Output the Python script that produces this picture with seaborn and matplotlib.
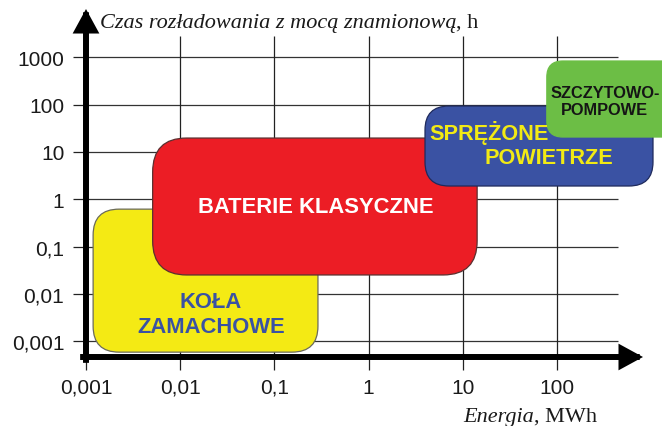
import numpy as np
import matplotlib
matplotlib.use("Agg")
import matplotlib.pyplot as plt
import seaborn as sns
from matplotlib.patches import FancyBboxPatch
from matplotlib.transforms import IdentityTransform

# ---------------- data ----------------
x_ticks = [0.001, 0.01, 0.1, 1, 10, 100]
x_labels = ["0,001", "0,01", "0,1", "1", "10", "100"]
y_ticks = [0.001, 0.01, 0.1, 1, 10, 100, 1000]
y_labels = ["0,001", "0,01", "0,1", "1", "10", "100", "1000"]

# storage technologies: energy range (MWh) and discharge time range (h)
techs = ["KOŁA ZAMACHOWE", "BATERIE KLASYCZNE", "SPRĘŻONE POWIETRZE", "SZCZYTOWO-POMPOWE"]
energy_min = [0.00119, 0.0051, 3.97, 78]
energy_max = [0.29, 14.2, 1045, 3000]
time_min = [0.00059, 0.0252, 1.91, 20.7]
time_max = [0.62, 19.7, 93.5, 836]
box_colors = ["#F4EA14", "#EC1D25", "#3A52A3", "#6CBE45"]
edge_colors = ["#6b6b5a", "#5a3030", "#1f2a5c", "#6CBE45"]
radius_px = [26, 34, 24, 16]

# labels inside boxes: (text, x, y, ha, color, size, linespacing)
labels = [
    ("KOŁA\nZAMACHOWE", 0.0212, 0.0037, "center", "#3A52A3", 15.8, 1.25),
    ("BATERIE KLASYCZNE", 0.273, 0.72, "center", "white", 15.8, 1.2),
    ("SPRĘŻONE", 4.4, 26, "left", "#F2EA14", 15.6, 1.2),
    ("POWIETRZE", 82, 7.7, "center", "#F2EA14", 15.6, 1.2),
    ("SZCZYTOWO-\nPOMPOWE", 322, 120, "center", "#151515", 11.8, 1.15),
]

# ---------------- figure ----------------
sns.set_theme(style="ticks")
plt.rcParams["font.family"] = ["Liberation Sans", "DejaVu Sans"]

fig = plt.figure(figsize=(6.62, 4.27), dpi=100)
ax = fig.add_axes([86 / 662, 69 / 427, 576 / 662, 358 / 427])
ax.set_xscale("log")
ax.set_yscale("log")
ax.set_xlim(1e-3, 10 ** 3.1147)
ax.set_ylim(10 ** -3.3317, 10 ** 4.2322)
sns.despine(ax=ax, left=True, bottom=True, top=True, right=True)
ax.patch.set_alpha(0)

# grid lines (limited length like the original)
ax.hlines(y_ticks, 1e-3, 10 ** 2.648, color="#333333", lw=0.9, zorder=1)
ax.vlines(x_ticks, ax.get_ylim()[0], 10 ** 3.45, color="#222222", lw=0.9, zorder=1)

ax.set_xticks(x_ticks, x_labels)
ax.set_yticks(y_ticks, y_labels)
ax.minorticks_off()
ax.tick_params(axis="both", direction="out", length=9.4, width=0.9, color="#222222",
               labelsize=15, labelcolor="#1a1a1a")
ax.tick_params(axis="x", pad=5.5)
ax.tick_params(axis="y", pad=6.2)

# rounded boxes drawn in pixel space from data positions
for i in range(len(techs)):
    (x0, y0) = ax.transData.transform((energy_min[i], time_min[i]))
    (x1, y1) = ax.transData.transform((energy_max[i], time_max[i]))
    box = FancyBboxPatch((x0, y0), x1 - x0, y1 - y0,
                         boxstyle=f"round,pad=0,rounding_size={radius_px[i]}",
                         transform=IdentityTransform(), facecolor=box_colors[i],
                         edgecolor=edge_colors[i], lw=0.9, zorder=3 + i, clip_on=False)
    ax.add_artist(box)

for txt, x, y, ha, col, size, ls in labels:
    ax.text(x, y, txt, ha=ha, va="center", color=col, fontsize=size, fontweight="bold",
            linespacing=ls, zorder=20, clip_on=False)

# axis arrows
arrow = dict(arrowstyle="-|>,head_length=0.55,head_width=0.3", lw=4.3, color="black",
             shrinkA=0, shrinkB=0, mutation_scale=20, capstyle="projecting", joinstyle="miter")
ax.annotate("", xy=(0, 0.972), xytext=(0, -0.008), xycoords="axes fraction",
            arrowprops=arrow, zorder=30, annotation_clip=False)
ax.annotate("", xy=(0.967, 0), xytext=(-0.005, 0), xycoords="axes fraction",
            arrowprops=arrow, zorder=30, annotation_clip=False)

# axis titles: italic part + upright unit
serif = ["Liberation Serif", "DejaVu Serif"]
t1 = fig.text(100 / 662, 1 - 28 / 427, "Czas rozładowania z mocą znamionową", family=serif,
              style="italic", fontsize=16, color="#1a1a1a", va="baseline", ha="left")
ax.annotate(", h", xy=(1, 0), xycoords=t1, family=serif, fontsize=16, color="#1a1a1a",
            va="bottom", ha="left", annotation_clip=False)

t2 = fig.text(463 / 662, 1 - 422 / 427, "Energia", family=serif, style="italic",
              fontsize=16, color="#1a1a1a", va="baseline", ha="left")
ax.annotate(", MWh", xy=(1, 0), xycoords=t2, family=serif, fontsize=16, color="#1a1a1a",
            va="bottom", ha="left", annotation_clip=False)

fig.savefig("out.png", dpi=100)
